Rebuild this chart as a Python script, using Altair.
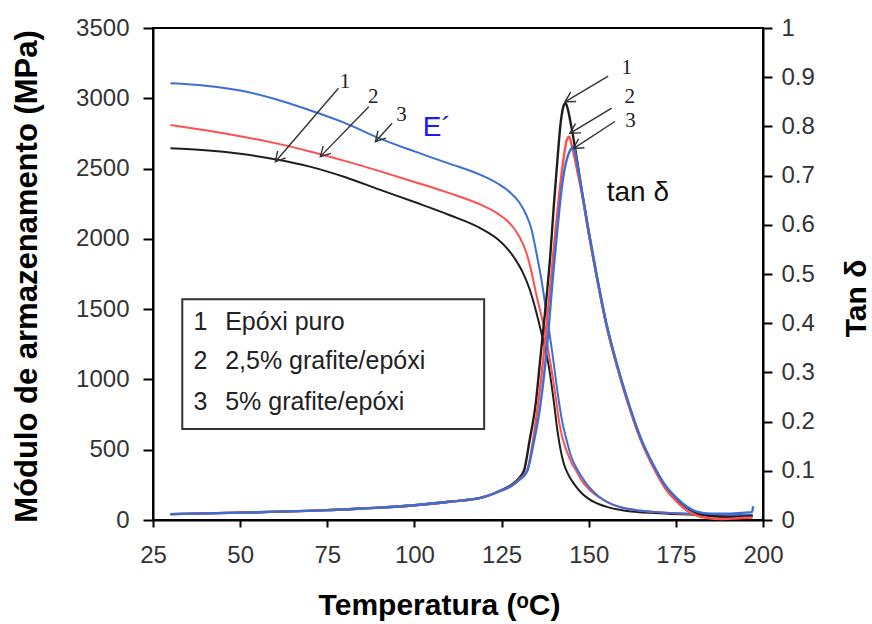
import math
import altair as alt
import pandas as pd

# ---------------- data ----------------
SERIES = ["1", "2", "3"]
SERIES_NAMES = ["Epóxi puro", "2,5% grafite/epóxi", "5% grafite/epóxi"]
COLORS = ["#1e1e1e", "#ff4f4f", "#3b6fd4"]

X_TICKS = [25, 50, 75, 100, 125, 150, 175, 200]
E_TICKS = [0, 500, 1000, 1500, 2000, 2500, 3000, 3500]
TAN_TICKS = [0, 0.1, 0.2, 0.3, 0.4, 0.5, 0.6, 0.7, 0.8, 0.9, 1]

# Storage modulus E' (MPa)
E_T1 = [30, 40, 50, 60, 70, 80, 90, 100, 110, 119, 124, 127, 129, 131, 133, 135, 137, 138.5, 140, 141, 142, 143, 144, 146, 148, 150, 155, 160, 170, 180, 190, 197]
E_V1 = [2644, 2630, 2605, 2567, 2514, 2440, 2350, 2262, 2170, 2075, 1995, 1920, 1852, 1765, 1645, 1475, 1270, 1100, 840, 640, 490, 390, 330, 250, 190, 150, 95, 68, 48, 38, 32, 30]

E_T2 = [30, 40, 50, 60, 70, 80, 90, 100, 110, 119, 124, 127, 130, 132, 133.5, 135, 137, 139, 140.5, 141.5, 142.4, 143, 144, 145, 146.3, 148, 150, 154.3, 160, 170, 180, 190, 197]
E_V2 = [2810, 2772, 2730, 2681, 2622, 2555, 2482, 2405, 2325, 2243, 2178, 2120, 2020, 1910, 1775, 1600, 1390, 1120, 880, 700, 593, 540, 470, 410, 356, 280, 220, 142, 85, 55, 42, 35, 32]

E_T3 = [30, 40, 50, 60, 70, 80, 90, 100, 110, 119, 124, 127, 130, 132, 133.5, 135, 136.5, 138, 139.5, 141, 142.4, 143.4, 145, 146.8, 149, 151, 154.3, 160, 170, 180, 190, 197]
E_V3 = [3107, 3090, 3055, 2995, 2915, 2825, 2715, 2622, 2535, 2455, 2392, 2340, 2262, 2175, 2075, 1900, 1700, 1450, 1200, 920, 700, 593, 450, 356, 270, 210, 142, 85, 56, 45, 38, 35]

# tan delta
TAN_T1 = [30, 50, 75, 100, 110, 120, 125, 128, 130, 131.5, 133, 134.8, 136, 137, 138, 139, 140, 141, 142, 143, 143.4, 144, 145, 146, 147, 148, 150, 152.5, 155, 158.2, 161, 164.9, 168.7, 172, 175.5, 178, 181, 185, 190, 197]
TAN_V1 = [0.012, 0.015, 0.020, 0.030, 0.037, 0.047, 0.061, 0.072, 0.085, 0.102, 0.160, 0.237, 0.320, 0.390, 0.460, 0.540, 0.640, 0.730, 0.810, 0.845, 0.847, 0.835, 0.800, 0.760, 0.715, 0.670, 0.585, 0.488, 0.400, 0.312, 0.245, 0.165, 0.108, 0.068, 0.041, 0.026, 0.014, 0.008, 0.006, 0.008]

TAN_T2 = [30, 50, 75, 100, 110, 120, 125, 128, 130, 132.4, 134, 135.5, 137, 138.2, 139.3, 140.5, 141.5, 142.5, 143.7, 144.4, 145, 146, 147, 148, 150, 152.5, 155, 158.2, 161, 164.9, 168.7, 172, 175.5, 178, 181, 184, 188, 192, 197]
TAN_V2 = [0.012, 0.015, 0.020, 0.030, 0.037, 0.047, 0.060, 0.070, 0.082, 0.102, 0.160, 0.237, 0.330, 0.420, 0.500, 0.590, 0.660, 0.720, 0.772, 0.779, 0.765, 0.735, 0.700, 0.665, 0.582, 0.486, 0.398, 0.310, 0.243, 0.163, 0.105, 0.064, 0.036, 0.020, 0.009, 0.004, 0.002, 0.003, 0.005]

TAN_T3 = [30, 50, 75, 100, 110, 120, 125, 128, 130, 132.4, 134, 136.2, 138, 139.9, 141, 142, 143, 144, 145, 145.6, 146.3, 147, 148, 150, 152.5, 155, 158.2, 161, 164.9, 168.7, 172, 175.5, 178, 181, 185, 190, 195, 196.8, 197.2]
TAN_V3 = [0.012, 0.015, 0.020, 0.030, 0.037, 0.047, 0.060, 0.070, 0.081, 0.100, 0.150, 0.237, 0.350, 0.508, 0.590, 0.660, 0.710, 0.740, 0.755, 0.759, 0.740, 0.712, 0.670, 0.587, 0.490, 0.402, 0.314, 0.247, 0.167, 0.110, 0.070, 0.043, 0.028, 0.017, 0.013, 0.013, 0.015, 0.016, 0.028]

# ---------------- annotation positions (data coordinates) ----------------
E_ARROW_START = [(78.2, 3071), (86.9, 2940), (93.6, 2822)]
E_ARROW_END = [(60.1, 2549), (73.0, 2585), (88.8, 2691)]
E_NUM_POS = [(80.1, 3118), (88.2, 3011), (96.3, 2881)]
E_LABEL_POS = (106.4, 2789)

TAN_ARROW_START = [(155.6, 0.902), (156.6, 0.837), (157.5, 0.810)]
TAN_ARROW_END = [(143.2, 0.850), (144.6, 0.786), (145.6, 0.755)]
TAN_NUM_POS = [(160.9, 0.918), (161.8, 0.860), (162.0, 0.810)]
TAN_LABEL_POS = (164.1, 0.665)

LEG_BOX = (33.4, 120.0, 647, 1570)
LEG_NUM_T = 36.6
LEG_TXT_T = 45.7
LEG_ROW_E = [1411, 1133, 837]

# ---------------- layout ----------------
PLOT_W, PLOT_H = 610, 492
PX_T = PLOT_W / 175.0
PX_E = PLOT_H / 3500.0
PX_TAN = PLOT_H / 1.0
FONT = "Liberation Sans"


def long_df(ts, vs, col):
    rows = []
    for s, t, v in zip(SERIES, ts, vs):
        for a, b in zip(t, v):
            rows.append({"T": a, col: b, "s": s})
    return pd.DataFrame(rows)


def arrows_df(starts, ends, col, ppy):
    rows = []
    for (t0, v0), (t1, v1) in zip(starts, ends):
        dx = (t1 - t0) * PX_T
        dy = -(v1 - v0) * ppy
        ang = math.degrees(math.atan2(dx, -dy)) % 360
        rows.append({"T": t0, col: v0, "T2": t1, col + "2": v1, "ang": ang})
    return pd.DataFrame(rows)


e_df = long_df([E_T1, E_T2, E_T3], [E_V1, E_V2, E_V3], "E")
tan_df = long_df([TAN_T1, TAN_T2, TAN_T3], [TAN_V1, TAN_V2, TAN_V3], "tan")

x_scale = alt.Scale(domain=[25, 200], nice=False, zero=False)
x_axis = alt.Axis(
    values=X_TICKS, format="d", title="Temperatura (ᵒC)", grid=False, labelFlush=False, labelOverlap=False,
    domainColor="black", domainWidth=2, tickColor="black", tickWidth=2, tickSize=7,
    labelFont=FONT, labelFontSize=24, labelColor="#333", labelPadding=16,
    titleFont=FONT, titleFontSize=30, titleFontWeight="bold", titleColor="black",
    titleX=286, titleY=94, titleBaseline="alphabetic", titleAlign="center",
)
e_scale = alt.Scale(domain=[0, 3500], nice=False, zero=True)
e_axis = alt.Axis(
    values=E_TICKS, format="d", orient="left", title="Módulo de armazenamento (MPa)", grid=False,
    labelFlush=False, labelOverlap=False,
    domainColor="black", domainWidth=2, tickColor="black", tickWidth=2, tickSize=10,
    labelFont=FONT, labelFontSize=24, labelColor="#333", labelPadding=14,
    titleFont=FONT, titleFontSize=31, titleFontWeight="bold", titleColor="black",
    titleAngle=270, titleX=-126, titleY=248, titleBaseline="middle", titleAlign="center",
)
tan_scale = alt.Scale(domain=[0, 1], nice=False, zero=True)
tan_axis = alt.Axis(
    values=TAN_TICKS, format="~g", orient="right", title="Tan δ", grid=False,
    labelFlush=False, labelOverlap=False,
    domainColor="black", domainWidth=2, tickColor="black", tickWidth=2, tickSize=9,
    labelFont=FONT, labelFontSize=24, labelColor="#333", labelPadding=9,
    titleFont=FONT, titleFontSize=30, titleFontWeight="bold", titleColor="black",
    titleAngle=270, titleX=93, titleY=270, titleBaseline="middle", titleAlign="center",
)


def X(field="T"):
    return alt.X(f"{field}:Q", scale=x_scale, axis=x_axis)


def YE(field="E"):
    return alt.Y(f"{field}:Q", scale=e_scale, axis=e_axis)


def YT(field="tan"):
    return alt.Y(f"{field}:Q", scale=tan_scale, axis=tan_axis)


color = alt.Color("s:N", scale=alt.Scale(domain=SERIES, range=COLORS), legend=None)
HEAD = "M -0.55 1 L 0 0 L 0.55 1"

# ---------- E' group ----------
e_lines = alt.Chart(e_df).mark_line(strokeWidth=2, interpolate="monotone").encode(
    x=X(), y=YE(), color=color, detail="s:N"
)

box_df = pd.DataFrame([{"T": LEG_BOX[0], "T2": LEG_BOX[1], "E": LEG_BOX[2], "E2": LEG_BOX[3]}])
box = alt.Chart(box_df).mark_rect(fill="white", stroke="#333", strokeWidth=2).encode(
    x=X(), x2="T2:Q", y=YE(), y2="E2:Q"
)
leg_num_df = pd.DataFrame({"T": [LEG_NUM_T] * 3, "E": LEG_ROW_E, "label": SERIES})
leg_txt_df = pd.DataFrame({"T": [LEG_TXT_T] * 3, "E": LEG_ROW_E, "label": SERIES_NAMES})
leg_num = alt.Chart(leg_num_df).mark_text(
    align="left", baseline="middle", font=FONT, fontSize=25, color="#222"
).encode(x=X(), y=YE(), text="label:N")
leg_txt = alt.Chart(leg_txt_df).mark_text(
    align="left", baseline="middle", font=FONT, fontSize=25, color="#222"
).encode(x=X(), y=YE(), text="label:N")

e_arr_df = arrows_df(E_ARROW_START, E_ARROW_END, "E", PX_E)
e_arr = alt.Chart(e_arr_df).mark_rule(color="#333", strokeWidth=1.4).encode(
    x=X(), x2="T2:Q", y=YE(), y2="E2:Q"
)
e_head = alt.Chart(e_arr_df).mark_point(
    shape=HEAD, filled=False, stroke="#333", strokeWidth=1.4, size=380, opacity=1
).encode(x=X("T2"), y=YE("E2"), angle=alt.Angle("ang:Q", scale=None))
e_num_df = pd.DataFrame({"T": [p[0] for p in E_NUM_POS], "E": [p[1] for p in E_NUM_POS], "label": SERIES})
e_num = alt.Chart(e_num_df).mark_text(
    align="center", baseline="middle", font="Liberation Serif", fontSize=21, color="#222"
).encode(x=X(), y=YE(), text="label:N")
e_lab_df = pd.DataFrame({"T": [E_LABEL_POS[0]], "E": [E_LABEL_POS[1]], "label": ["E´"]})
e_lab = alt.Chart(e_lab_df).mark_text(
    align="center", baseline="middle", font=FONT, fontSize=28, color="#1a1aff"
).encode(x=X(), y=YE(), text="label:N")

e_group = alt.layer(e_lines, box, leg_num, leg_txt, e_arr, e_head, e_num, e_lab)

# ---------- tan delta group ----------
tan_lines = alt.Chart(tan_df).mark_line(strokeWidth=2.4, interpolate="monotone").encode(
    x=X(), y=YT(), color=color, detail="s:N"
)
t_arr_df = arrows_df(TAN_ARROW_START, TAN_ARROW_END, "tan", PX_TAN)
t_arr = alt.Chart(t_arr_df).mark_rule(color="#333", strokeWidth=1.4).encode(
    x=X(), x2="T2:Q", y=YT(), y2="tan2:Q"
)
t_head = alt.Chart(t_arr_df).mark_point(
    shape=HEAD, filled=False, stroke="#333", strokeWidth=1.4, size=380, opacity=1
).encode(x=X("T2"), y=YT("tan2"), angle=alt.Angle("ang:Q", scale=None))
t_num_df = pd.DataFrame({"T": [p[0] for p in TAN_NUM_POS], "tan": [p[1] for p in TAN_NUM_POS], "label": SERIES})
t_num = alt.Chart(t_num_df).mark_text(
    align="center", baseline="middle", font="Liberation Serif", fontSize=21, color="#222"
).encode(x=X(), y=YT(), text="label:N")
t_lab_df = pd.DataFrame({"T": [TAN_LABEL_POS[0]], "tan": [TAN_LABEL_POS[1]], "label": ["tan δ"]})
t_lab = alt.Chart(t_lab_df).mark_text(
    align="center", baseline="middle", font=FONT, fontSize=28, color="#111"
).encode(x=X(), y=YT(), text="label:N")

tan_group = alt.layer(tan_lines, t_arr, t_head, t_num, t_lab)

chart = (
    alt.layer(e_group, tan_group)
    .resolve_scale(y="independent")
    .properties(
        width=PLOT_W,
        height=PLOT_H,
        autosize=alt.AutoSizeParams(type="none"),
        padding={"left": 153, "top": 28, "right": 109, "bottom": 104},
        background="white",
    )
    .configure_view(stroke="black", strokeWidth=2)
)

chart.save("out.html", embed_options={"renderer": "svg", "actions": False})
